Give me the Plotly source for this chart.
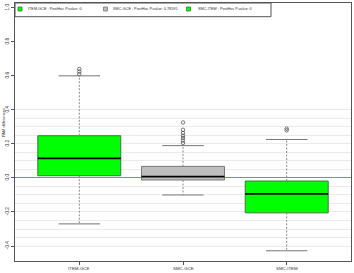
import plotly.graph_objects as go

# ---- data ----
categories = ["ITEM-GCE", "SMC-GCE", "SMC-ITEM"]
q1 = [0.013, -0.012, -0.205]
median = [0.115, 0.008, -0.094]
q3 = [0.248, 0.068, -0.018]
lower_whisker = [-0.27, -0.10, -0.428]
upper_whisker = [0.60, 0.19, 0.226]
outliers = [
    [0.61, 0.625, 0.64],
    [0.205, 0.220, 0.234, 0.248, 0.264, 0.283, 0.326],
    [0.28, 0.29],
]
fill_colors = ["#00ff00", "#bebebe", "#00ff00"]
edge_colors = ["#3a7a3a", "#777777", "#3a7a3a"]
legend_labels = [
    "ITEM-GCE ; PostHoc P.value :0",
    "SMC-GCE ; PostHoc P.value: 0.78595",
    "SMC-ITEM ; PostHoc P.value: 0",
]
y_ticks = [-0.4, -0.2, 0.0, 0.2, 0.4, 0.6, 0.8, 1.0]
grid_vals = [round(-0.40 + 0.05 * i, 2) for i in range(17)]
y_title = "PAM differences"

W, H = 354, 273
ML, MR, MT, MB = 15, 3, 3, 12
PW, PH = W - ML - MR, H - MT - MB

positions = [i + 1 for i in range(len(categories))]
box_w = 0.8
cap_w = 0.4

fig = go.Figure()

# box bodies
for p, a, b, fc, ec in zip(positions, q1, q3, fill_colors, edge_colors):
    fig.add_trace(go.Bar(x=[p], y=[b - a], base=[a], width=box_w,
                         marker=dict(color=fc, line=dict(color=ec, width=1)),
                         showlegend=False, hoverinfo="skip"))

# medians
for p, m in zip(positions, median):
    fig.add_trace(go.Scatter(x=[p - box_w / 2, p + box_w / 2], y=[m, m], mode="lines",
                             line=dict(color="#000000", width=1.8),
                             showlegend=False, hoverinfo="skip"))

# whiskers and caps
for p, a, b, lw, uw in zip(positions, q1, q3, lower_whisker, upper_whisker):
    fig.add_trace(go.Scatter(x=[p, p, None, p, p], y=[b, uw, None, a, lw], mode="lines",
                             line=dict(color="#888888", width=1, dash="2px,1.5px"),
                             showlegend=False, hoverinfo="skip"))
    fig.add_trace(go.Scatter(x=[p - cap_w / 2, p + cap_w / 2, None, p - cap_w / 2, p + cap_w / 2],
                             y=[uw, uw, None, lw, lw], mode="lines",
                             line=dict(color="#777777", width=1),
                             showlegend=False, hoverinfo="skip"))

# outliers
for p, outs in zip(positions, outliers):
    fig.add_trace(go.Scatter(x=[p] * len(outs), y=outs, mode="markers",
                             marker=dict(symbol="circle-open", size=3.5, color="#555555",
                                         line=dict(width=0.8)),
                             showlegend=False, hoverinfo="skip"))

# ---- custom legend (inside top-left) ----
def px_x(px):
    return (px - ML) / PW

def px_y(py):
    return (MT + PH - py) / PH

shapes = [dict(type="rect", xref="paper", yref="paper",
               x0=px_x(15), x1=px_x(271), y0=px_y(16.7), y1=px_y(3),
               line=dict(color="#555555", width=1), fillcolor="rgba(0,0,0,0)")]
annotations = []
sq_x = [20, 105.5, 188.5]
txt_x = [26, 110.5, 195.5]
for sx, tx, fc, ec, lab in zip(sq_x, txt_x, fill_colors, edge_colors, legend_labels):
    shapes.append(dict(type="rect", xref="paper", yref="paper",
                       x0=px_x(sx - 2), x1=px_x(sx + 2), y0=px_y(11), y1=px_y(7),
                       line=dict(color=ec, width=0.8), fillcolor=fc))
    annotations.append(dict(text=lab, xref="paper", yref="paper", x=px_x(tx), y=px_y(9.3),
                            xanchor="left", yanchor="middle", showarrow=False,
                            font=dict(size=3.8, color="#333333")))

# x category labels
for p, cat in zip(positions, categories):
    annotations.append(dict(text=cat, xref="x", yref="paper", x=p, y=0, yshift=-7,
                            xanchor="center", yanchor="middle", showarrow=False,
                            font=dict(size=4.4, color="#333333")))

annotations.append(dict(text=y_title, xref="paper", yref="paper", x=0, xshift=-12,
                        y=px_y(123), xanchor="center", yanchor="middle", textangle=-90,
                        showarrow=False, font=dict(size=4.0, color="#333333")))

fig.update_layout(
    width=W, height=H,
    margin=dict(l=ML, r=MR, t=MT, b=MB, pad=0),
    paper_bgcolor="white", plot_bgcolor="white",
    barmode="overlay",
    font=dict(family="Liberation Sans, Arial, sans-serif", color="#333333"),
    showlegend=False,
    shapes=shapes,
    annotations=annotations,
    xaxis=dict(range=[0.38, 3.62], tickmode="array", tickvals=positions,
               ticktext=["" for _ in categories],
               ticks="outside", ticklen=3, tickcolor="#555555", tickwidth=1,
               tickfont=dict(size=4.4, color="#333333"),
               showgrid=False, zeroline=False, showline=True, linecolor="#555555",
               linewidth=1, mirror=True, fixedrange=True),
    yaxis=dict(range=[-0.488, 1.028], tickmode="array", tickvals=y_ticks,
               ticktext=[f"{v:.1f}" for v in y_ticks], tickangle=-90,
               ticks="outside", ticklen=3, tickcolor="#555555", tickwidth=1,
               tickfont=dict(size=4.8, color="#333333"),
               showgrid=False, zeroline=True, zerolinecolor="#7d7dff", zerolinewidth=1,
               showline=True, linecolor="#555555", linewidth=1, mirror=True,
               minor=dict(tickmode="array", tickvals=grid_vals, showgrid=True,
                          gridcolor="#ebebeb", gridwidth=1, ticks=""),
               fixedrange=True),
)

fig.write_html(
    "out.html",
    config={"displayModeBar": False},
    post_script="document.body.style.margin='0';document.body.style.padding='0';"
                "document.body.style.overflow='hidden';",
)
